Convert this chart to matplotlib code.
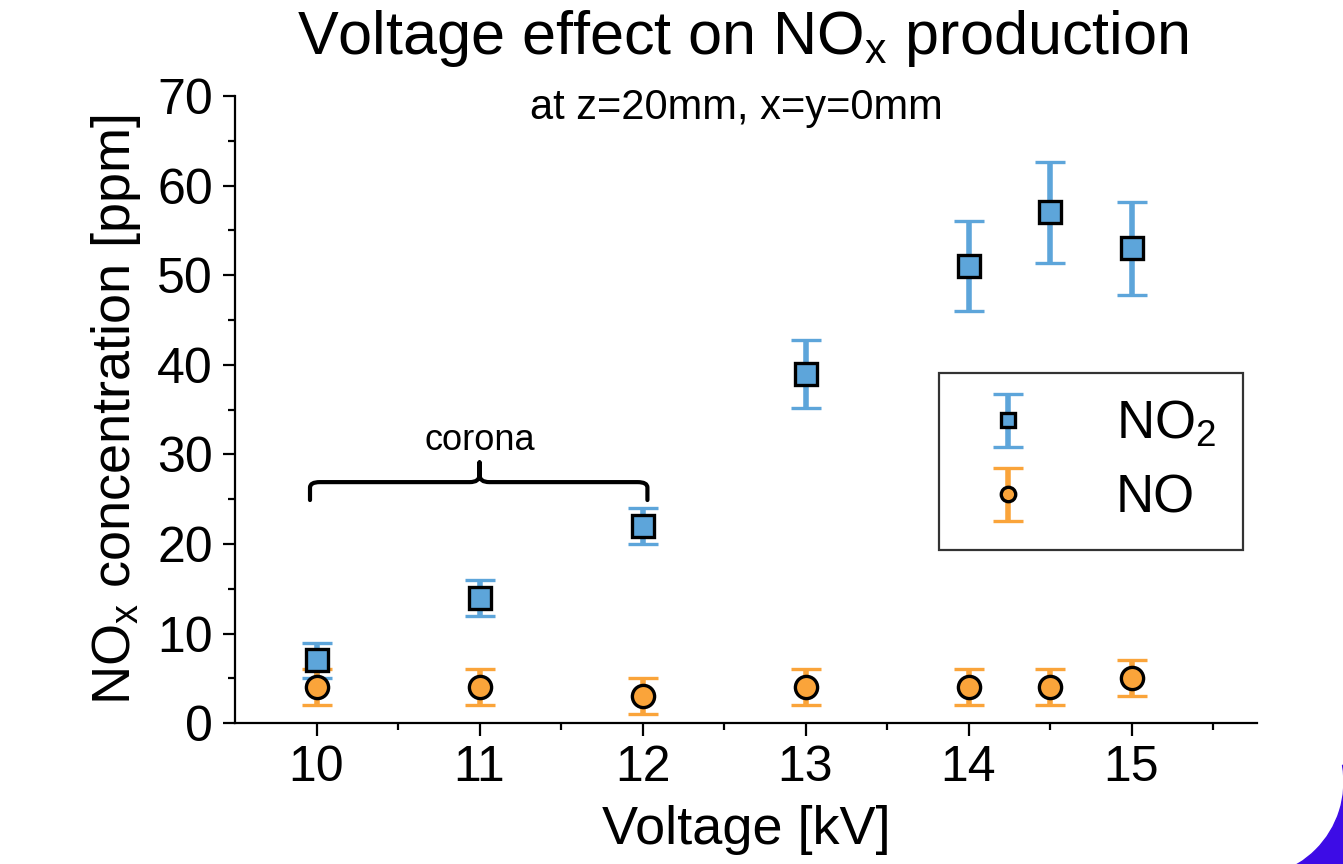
import numpy as np
import matplotlib
matplotlib.use("Agg")
import matplotlib.pyplot as plt
from matplotlib.path import Path
from matplotlib.patches import PathPatch, Wedge

plt.rcParams['font.family'] = ['Liberation Sans', 'DejaVu Sans']
plt.rcParams['mathtext.fontset'] = 'custom'
plt.rcParams['mathtext.rm'] = 'Liberation Sans'
plt.rcParams['mathtext.it'] = 'Liberation Sans'

# data
voltage = [10, 11, 12, 13, 14, 14.5, 15]
no2 = [7, 14, 22, 39, 51, 57, 53]
no2_err = [2, 2, 2, 3.8, 5, 5.6, 5.2]
no = [4, 4, 3, 4, 4, 4, 5]
no_err = [2, 2, 2, 2, 2, 2, 2]

blue = '#5DA5DA'
orange = '#FAA43A'

fig = plt.figure(figsize=(13.43, 8.64), dpi=100)
ax = fig.add_axes([0.175, 0.163, 0.761, 0.726])

ax.errorbar(voltage, no2, yerr=no2_err, fmt='s', ms=16, mfc=blue, mec='black', mew=2.4,
            ecolor=blue, elinewidth=4, capsize=11, capthick=4, label='NO$_2$', zorder=3)
ax.errorbar(voltage, no, yerr=no_err, fmt='o', ms=16, mfc=orange, mec='black', mew=2.4,
            ecolor=orange, elinewidth=4, capsize=11, capthick=4, label='NO', zorder=3)

ax.set_xlim(9.5, 15.77)
ax.set_ylim(0, 70)
ax.set_xticks([10, 11, 12, 13, 14, 15])
ax.set_xticks(np.arange(10.5, 15.6, 1), minor=True)
ax.set_yticks(np.arange(0, 71, 10))
ax.set_yticks(np.arange(5, 70, 10), minor=True)
ax.tick_params(which='major', length=9, width=1.6, labelsize=36, pad=7)
ax.tick_params(which='minor', length=5, width=1.6)
for s in ['top', 'right']:
    ax.spines[s].set_visible(False)
for s in ['left', 'bottom']:
    ax.spines[s].set_linewidth(1.6)

ax.set_xlabel('Voltage [kV]', fontsize=39, labelpad=10)
ax.set_ylabel('NO$_x$ concentration [ppm]', fontsize=39, labelpad=10)

fig.text(0.553, 0.955, r'Voltage effect on NO$_{\mathregular{x}}$ production', fontsize=44,
         ha='center', va='center')
fig.text(0.548, 0.875, 'at z=20mm, x=y=0mm', fontsize=30, ha='center', va='center')

# corona brace
bx0, bx1, bxm = 9.96, 12.03, 11.0
by0, by1, bpk = 24.9, 26.9, 29.1
r = 0.06
verts = [(bx0, by0), (bx0, by1 - 0.6), (bx0, by1), (bx0 + r, by1),
         (bxm - r, by1), (bxm, by1), (bxm, by1 + 0.8), (bxm, bpk),
         (bxm, by1 + 0.8), (bxm, by1), (bxm + r, by1),
         (bx1 - r, by1), (bx1, by1), (bx1, by1 - 0.6), (bx1, by0)]
codes = [Path.MOVETO, Path.LINETO, Path.CURVE3, Path.CURVE3,
         Path.LINETO, Path.CURVE3, Path.CURVE3, Path.LINETO,
         Path.LINETO, Path.CURVE3, Path.CURVE3,
         Path.LINETO, Path.CURVE3, Path.CURVE3, Path.LINETO]
ax.add_patch(PathPatch(Path(verts, codes), fill=False, lw=3, ec='black', capstyle='round',
                       joinstyle='round'))
ax.text(bxm, 31.6, 'corona', fontsize=26, ha='center', va='center')

leg = ax.legend(loc='upper left', bbox_to_anchor=(0.689, 0.558), fontsize=38,
                frameon=True, fancybox=False, edgecolor='black', markerscale=0.65,
                handletextpad=1.25, borderpad=0.5, labelspacing=0.45, handlelength=1.6,
                borderaxespad=0)
leg.get_frame().set_linewidth(1.6)

# purple corner decoration
fig.patches.append(Wedge((12.48, 0.82), 1.26, -100, 10, width=0.30, color='#3d0ce6',
                         transform=fig.dpi_scale_trans, figure=fig))

fig.savefig('out.png', dpi=100)
